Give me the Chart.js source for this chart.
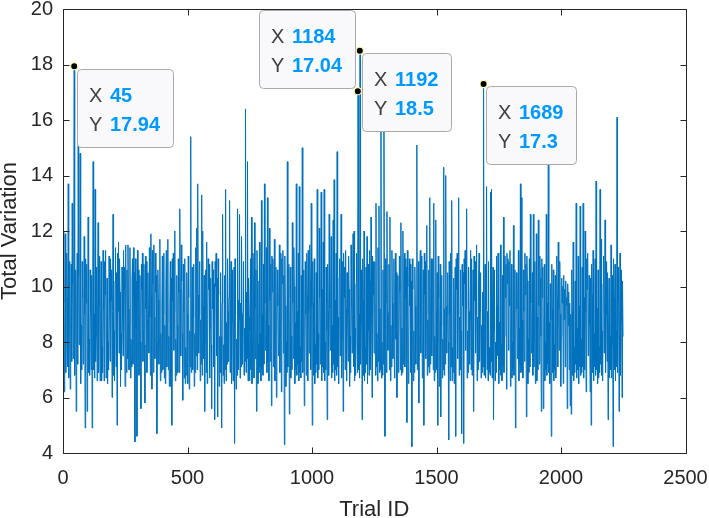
<!DOCTYPE html>
<html><head><meta charset="utf-8">
<script src="https://cdn.jsdelivr.net/npm/chart.js@4/dist/chart.umd.min.js"></script>
<style>html,body{margin:0;padding:0;background:#fff;}canvas{display:block;}</style>
</head><body>
<canvas id="c" width="709" height="518"></canvas>
<script>
// ---- data ----
const firstTrial = 1;
const trialStep = 4;          // samples at trials 1, 5, 9, ...
// values at trials firstTrial + trialStep*k
const totalVariation = [
12.0, 6.2, 11.9, 8.0, 9.6, 13.7, 8.4, 6.3, 10.8, 13.0,
7.4, 17.94, 9.1, 5.5, 11.2, 15.2, 7.9, 14.8, 8.6, 10.9,
7.2, 11.8, 4.9, 9.4, 5.5, 12.5, 8.1, 10.6, 7.0, 4.9,
14.5, 9.0, 13.5, 8.2, 6.6, 12.3, 9.3, 6.6, 10.9, 7.8,
11.3, 6.6, 9.7, 6.7, 10.3, 8.0, 11.1, 7.3, 9.5, 6.0,
12.6, 8.4, 10.2, 7.1, 5.0, 9.1, 7.6, 9.8, 8.3, 10.7,
7.5, 9.9, 6.4, 8.8, 10.6, 11.5, 7.0, 11.4, 8.1, 10.2,
7.2, 9.6, 4.4, 8.5, 4.6, 9.5, 6.8, 10.4, 5.6, 9.9,
7.3, 10.8, 5.8, 9.2, 6.9, 10.5, 7.6, 8.9, 11.9, 6.3,
10.1, 11.5, 7.4, 9.8, 4.7, 10.6, 7.2, 11.7, 8.3, 9.4,
7.0, 11.2, 8.6, 10.0, 7.1, 11.7, 8.2, 9.3, 6.4, 5.0,
9.5, 7.7, 12.0, 8.1, 10.4, 6.9, 9.8, 12.8, 7.5, 10.2,
5.9, 9.1, 11.0, 7.8, 10.5, 6.5, 9.6, 8.4, 15.4, 9.0,
7.0, 10.8, 8.3, 11.4, 12.1, 13.7, 7.6, 10.9, 8.8, 13.3,
12.0, 7.4, 5.5, 10.6, 11.6, 8.0, 9.9, 6.7, 10.3, 5.6,
9.2, 7.1, 5.2, 10.0, 7.5, 5.3, 9.7, 8.2, 10.5, 4.9,
12.6, 7.9, 10.4, 13.5, 8.7, 11.0, 7.3, 13.1, 9.2, 6.5,
10.6, 7.8, 4.35, 9.0, 8.1, 12.8, 7.0, 12.6, 9.4, 11.8,
7.2, 10.9, 8.5, 16.4, 9.8, 14.5, 10.3, 6.6, 11.0, 12.5,
8.0, 9.7, 12.3, 7.4, 5.5, 10.2, 7.9, 11.6, 8.3, 13.1,
9.0, 10.8, 13.7, 7.7, 11.4, 13.2, 8.6, 12.1, 7.3, 5.7,
9.8, 7.1, 11.7, 8.4, 6.0, 10.6, 7.5, 11.5, 8.8, 6.2,
10.1, 7.6, 4.3, 9.3, 8.0, 14.5, 9.6, 5.4, 10.7, 8.2,
12.3, 7.4, 10.0, 8.7, 13.7, 9.1, 11.2, 13.6, 7.8, 10.4,
15.0, 8.5, 5.7, 10.9, 6.8, 9.7, 11.3, 7.6, 10.2, 13.0,
5.0, 9.4, 11.0, 7.9, 10.5, 13.5, 8.3, 12.1, 7.2, 13.4,
9.9, 11.6, 13.5, 8.0, 10.7, 5.2, 9.1, 12.6, 7.7, 11.8,
8.6, 12.4, 13.85, 9.5, 11.2, 14.86, 8.9, 10.3, 7.5, 12.6,
8.1, 5.5, 9.6, 7.0, 9.2, 10.5, 7.3, 9.9, 8.2, 11.5,
7.6, 11.9, 12.0, 8.5, 10.1, 7.9, 17.04, 9.0, 18.5, 8.7,
5.2, 9.5, 12.0, 7.8, 10.7, 11.8, 8.4, 6.8, 10.2, 12.5,
6.0, 9.7, 7.6, 10.9, 13.0, 8.3, 11.4, 12.9, 9.2, 15.6,
8.0, 10.6, 15.6, 4.6, 9.4, 12.7, 7.7, 10.8, 12.5, 8.6,
11.3, 7.4, 11.0, 9.5, 8.1, 6.0, 10.4, 7.9, 9.8, 12.3,
8.5, 12.0, 10.3, 7.1, 9.6, 5.1, 10.0, 7.8, 9.3, 6.9,
4.23, 9.9, 8.4, 10.7, 7.2, 15.1, 9.0, 5.8, 10.3, 7.6,
11.1, 8.0, 5.0, 9.7, 7.4, 12.2, 8.8, 10.6, 13.2, 9.1,
7.5, 11.0, 13.0, 8.2, 12.4, 7.0, 5.0, 9.6, 8.5, 5.3,
10.4, 8.1, 14.3, 9.2, 14.0, 7.6, 10.5, 4.47, 9.0, 11.2,
13.1, 7.8, 10.3, 8.6, 4.6, 9.9, 7.4, 13.2, 8.9, 10.6,
4.7, 9.3, 4.35, 10.1, 7.7, 12.8, 8.4, 10.7, 7.2, 11.3,
11.0, 8.1, 5.5, 9.5, 7.6, 11.5, 8.9, 10.2, 7.3, 10.5,
8.6, 9.8, 17.3, 8.3, 6.7, 13.6, 9.1, 10.9, 7.8, 13.4,
13.5, 9.4, 5.2, 10.6, 8.0, 11.1, 7.5, 9.9, 8.7, 11.5,
7.9, 10.4, 12.5, 8.2, 9.6, 6.3, 10.1, 7.7, 9.3, 6.4,
10.8, 8.0, 12.2, 9.1, 4.9, 10.5, 7.4, 11.3, 8.5, 13.7,
13.2, 8.8, 10.6, 7.3, 9.7, 5.3, 10.2, 8.1, 11.0, 12.6,
7.6, 10.5, 12.6, 8.4, 6.5, 11.9, 8.9, 12.4, 7.2, 10.3,
5.5, 9.6, 5.6, 10.8, 8.0, 12.6, 9.4, 14.4, 8.7, 10.1,
4.6, 9.2, 10.6, 7.9, 10.4, 8.3, 9.6, 11.6, 7.7, 9.0,
8.2, 9.4, 6.5, 8.8, 7.1, 9.3, 5.6, 8.6, 7.0, 5.7,
5.4, 9.1, 11.6, 7.8, 10.2, 13.0, 8.5, 11.1, 9.3, 12.9,
8.1, 10.7, 13.0, 9.6, 12.0, 6.2, 9.9, 7.5, 10.4, 6.2,
5.0, 9.7, 11.3, 8.3, 11.0, 13.8, 9.2, 10.6, 7.8, 13.5,
11.7, 8.4, 10.1, 7.6, 12.4, 9.0, 7.3, 5.2, 10.3, 8.2,
11.5, 7.9, 4.23, 9.6, 10.8, 8.4, 16.1, 9.5, 5.5, 11.2,
8.7, 6.0, 8.2
];
// values at the in-between trials firstTrial + trialStep*k + 2 (dense core of the trace)
const totalVariationMid = [
9.4, 8.7, 6.9, 11.2, 7.1, 6.7, 10.9, 8.2, 7.3, 10.1,
9.8, 6.8, 10.6, 8.9, 7.2, 10.4, 9.2, 6.5, 7.0, 9.6,
8.6, 9.0, 11.0, 10.8, 7.9, 6.9, 6.8, 9.1, 10.4, 8.3,
7.0, 6.7, 7.3, 10.7, 9.0, 6.9, 11.1, 8.5, 6.6, 6.9,
9.2, 10.9, 11.3, 8.1, 6.5, 7.0, 9.4, 11.0, 10.6, 9.1,
6.8, 6.6, 11.4, 10.5, 11.2, 11.6, 11.0, 6.4, 7.0, 9.0,
11.3, 10.7, 11.5, 6.9, 7.4, 9.2, 8.6, 6.7, 7.1, 11.0,
11.4, 10.5, 11.0, 10.2, 11.3, 10.6, 8.9, 8.0, 10.8, 11.2,
8.4, 7.9, 11.1, 10.9, 8.8, 9.1, 11.4, 6.8, 9.7, 11.3,
6.9, 8.9, 11.2, 10.4, 8.0, 9.5, 8.1, 6.6, 6.9, 11.1,
9.0, 6.7, 6.5, 11.3, 8.7, 7.0, 6.4, 10.9, 10.3, 11.0,
11.2, 9.1, 6.6, 6.8, 8.6, 11.0, 6.9, 9.9, 11.5, 8.3,
10.8, 6.7, 6.5, 6.8, 9.0, 11.1, 6.3, 7.1, 6.9, 10.7,
8.9, 6.4, 6.9, 7.5, 7.0, 9.7, 9.0, 6.6, 7.2, 6.8,
9.3, 10.4, 8.0, 6.9, 6.5, 11.0, 10.8, 8.5, 7.9, 10.9,
10.6, 10.1, 10.9, 11.2, 10.3, 11.0, 6.4, 6.9, 8.2, 9.4,
6.8, 6.5, 7.0, 6.6, 7.2, 9.1, 9.6, 6.9, 10.9, 8.7,
6.6, 10.7, 11.0, 6.3, 6.8, 9.5, 8.8, 6.7, 7.1, 9.0,
9.1, 6.8, 7.3, 6.9, 7.4, 6.6, 8.9, 8.4, 7.0, 6.5,
11.2, 6.7, 9.2, 10.6, 11.3, 6.5, 6.9, 7.1, 6.6, 7.0,
6.8, 7.2, 9.4, 8.8, 6.9, 7.3, 6.6, 9.5, 10.8, 11.1,
11.0, 9.0, 6.6, 10.7, 8.6, 9.3, 8.2, 6.9, 11.2, 11.0,
11.3, 10.4, 11.1, 6.4, 6.9, 7.1, 10.8, 8.3, 6.7, 7.0,
9.4, 11.4, 6.5, 7.0, 6.8, 7.2, 6.6, 6.9, 6.7, 7.3,
6.9, 10.6, 8.2, 9.0, 11.2, 6.6, 9.1, 11.5, 7.0, 9.3,
10.9, 6.8, 6.5, 6.9, 7.2, 6.7, 7.0, 9.6, 8.8, 6.6,
7.1, 6.9, 6.6, 7.0, 8.4, 10.8, 6.8, 9.2, 9.5, 6.7,
6.9, 7.2, 6.6, 7.0, 6.8, 7.1, 6.5, 11.0, 9.2, 6.7,
10.9, 11.2, 10.7, 11.3, 6.6, 9.0, 11.1, 6.4, 6.9, 9.3,
9.0, 7.1, 6.6, 6.8, 11.2, 6.9, 7.0, 6.7, 7.2, 10.6,
11.0, 6.8, 6.6, 6.9, 7.2, 6.5, 10.8, 11.3, 7.0, 9.2,
11.1, 10.9, 9.0, 6.8, 7.1, 6.6, 7.3, 6.9, 7.0, 6.7,
6.8, 7.2, 9.5, 11.0, 6.9, 9.1, 8.9, 7.0, 6.6, 7.1,
9.4, 8.7, 6.7, 11.2, 10.5, 8.3, 6.9, 11.1, 7.0, 6.8,
6.9, 7.2, 11.2, 11.0, 10.7, 11.3, 6.5, 11.0, 10.8, 10.2,
11.0, 6.6, 6.9, 9.3, 8.6, 7.0, 10.9, 8.2, 11.3, 9.4,
6.7, 10.6, 11.2, 10.9, 9.0, 6.8, 7.1, 6.9, 7.2, 11.0,
9.2, 7.0, 6.6, 6.9, 9.1, 10.5, 11.1, 6.4, 10.8, 8.6,
6.7, 7.0, 6.8, 7.2, 9.3, 9.0, 8.0, 10.9, 6.6, 7.1,
6.6, 6.9, 6.5, 10.7, 11.0, 11.2, 9.0, 6.8, 7.0, 8.4,
10.8, 10.5, 11.0, 11.3, 9.2, 6.7, 6.9, 9.1, 8.8, 7.0,
6.8, 10.6, 11.1, 10.9, 9.0, 6.6, 7.0, 11.2, 9.1, 6.7,
6.9, 7.1, 6.8, 10.8, 9.2, 7.0, 6.6, 6.9, 6.8, 7.3,
6.7, 10.7, 8.4, 6.6, 6.9, 9.3, 11.2, 6.5, 7.0, 6.8,
6.6, 7.1, 6.9, 11.1, 10.8, 11.2, 11.0, 10.9, 11.3, 8.7,
6.7, 7.0, 6.8, 10.6, 8.1, 9.2, 8.9, 6.6, 7.2, 6.9,
7.0, 6.7, 9.1, 11.2, 10.8, 11.1, 6.5, 6.9, 7.1, 9.4,
9.0, 6.8, 7.1, 10.9, 8.6, 6.6, 7.0, 9.3, 11.1, 8.2,
11.0, 10.7, 8.5, 6.6, 7.0, 6.8, 7.2, 6.9, 6.5, 8.8,
10.8, 6.9, 6.6, 7.0, 6.7, 11.1, 7.1, 9.2, 10.9, 6.4,
10.3, 10.0, 10.4, 9.9, 10.2, 9.6, 10.1, 9.8, 9.4, 9.0,
10.6, 6.8, 6.6, 6.9, 7.2, 6.7, 7.0, 6.5, 7.1, 6.8,
6.9, 7.1, 6.7, 7.0, 9.1, 11.0, 11.2, 9.0, 8.6, 10.3,
10.8, 6.9, 6.6, 7.1, 6.8, 7.0, 6.5, 6.7, 6.9, 7.2,
6.8, 6.6, 11.1, 9.0, 6.9, 10.9, 10.5, 8.4, 6.7, 7.0,
6.7, 10.4, 11.0, 7.0, 6.6, 7.1, 6.9, 10.7, 8.3, 6.8,
10.6, 10.2
];
const xTickValues = [0, 500, 1000, 1500, 2000, 2500];
const yTickValues = [4, 6, 8, 10, 12, 14, 16, 18, 20];
const tipTrials = [45, 1184, 1192, 1689];
const tipValues = [17.94, 17.04, 18.5, 17.3];
const xTitle = 'Trial ID';
const yTitle = 'Total Variation';

// ---- build the table the library needs ----
const points = [];
totalVariation.forEach((v, k) => {
  points.push({ x: firstTrial + k * trialStep, y: v });
  if (k < totalVariationMid.length) {
    points.push({ x: firstTrial + k * trialStep + trialStep / 2, y: totalVariationMid[k] });
  }
});

const FONT = '"Liberation Sans", Arial, Helvetica, sans-serif';
const AXIS_COLOR = '#262626';
const tipPlacement = ['se', 'nw', 'se', 'se'];

const framePlugin = {
  id: 'frame',
  afterDatasetsDraw(chart) {
    const { ctx, chartArea: a } = chart;
    const xs = chart.scales.x, ys = chart.scales.y;
    const L = Math.round(a.left) + 0.5, R = Math.round(a.right) + 0.5;
    const T = Math.round(a.top) + 0.5, B = Math.round(a.bottom) + 0.5;
    const tl = 6;
    ctx.save();
    ctx.strokeStyle = AXIS_COLOR;
    ctx.lineWidth = 1;
    ctx.beginPath();
    ctx.rect(L, T, R - L, B - T);
    xTickValues.forEach(v => {
      const p = Math.round(xs.getPixelForValue(v)) + 0.5;
      ctx.moveTo(p, B); ctx.lineTo(p, B - tl);
      ctx.moveTo(p, T); ctx.lineTo(p, T + tl);
    });
    yTickValues.forEach(v => {
      const p = Math.round(ys.getPixelForValue(v)) + 0.5;
      ctx.moveTo(L, p); ctx.lineTo(L + tl, p);
      ctx.moveTo(R, p); ctx.lineTo(R - tl, p);
    });
    ctx.stroke();
    ctx.restore();
  }
};

const tipPlugin = {
  id: 'datatips',
  afterDatasetsDraw(chart) {
    const { ctx } = chart;
    const xs = chart.scales.x, ys = chart.scales.y;
    ctx.save();
    tipTrials.forEach((t, i) => {
      const px = xs.getPixelForValue(t), py = ys.getPixelForValue(tipValues[i]);
      const sx = String(t), sy = String(tipValues[i]);
      ctx.font = 'bold 20px ' + FONT;
      const w = 32.5 + Math.max(ctx.measureText(sx).width, ctx.measureText(sy).width) + 13.5;
      const h = 78;
      let bx, by;
      if (tipPlacement[i] === 'nw') { bx = px - 2.5 - w; by = py - 3 - h; }
      else { bx = px + 2.5; by = py + 2.5; }
      bx = Math.round(bx) + 0.5; by = Math.round(by) + 0.5;
      ctx.beginPath();
      ctx.roundRect(bx, by, Math.round(w), h, 4);
      ctx.fillStyle = '#f9f9fc';
      ctx.fill();
      ctx.strokeStyle = '#aaaaaa';
      ctx.lineWidth = 1;
      ctx.stroke();
      ctx.textBaseline = 'alphabetic';
      ctx.textAlign = 'left';
      ctx.font = '20px ' + FONT;
      ctx.fillStyle = '#404040';
      ctx.fillText('X', bx + 11.5, by + 32);
      ctx.fillText('Y', bx + 11.5, by + 61.5);
      ctx.font = 'bold 20px ' + FONT;
      ctx.fillStyle = '#0099ff';
      ctx.fillText(sx, bx + 32.5, by + 32);
      ctx.fillText(sy, bx + 32.5, by + 61.5);
    });
    tipTrials.forEach((t, i) => {
      const px = xs.getPixelForValue(t), py = ys.getPixelForValue(tipValues[i]);
      ctx.beginPath();
      ctx.arc(px, py, 3.6, 0, Math.PI * 2);
      ctx.fillStyle = '#000000';
      ctx.fill();
      ctx.strokeStyle = '#ffffb8';
      ctx.lineWidth = 1.2;
      ctx.stroke();
    });
    ctx.restore();
  }
};

new Chart(document.getElementById('c'), {
  type: 'line',
  data: {
    datasets: [{
      data: points,
      borderColor: '#0072BD',
      borderWidth: 1,
      pointRadius: 0,
      tension: 0,
      fill: false
    }]
  },
  options: {
    responsive: false,
    animation: false,
    devicePixelRatio: 1,
    layout: { padding: { left: 0, top: 9, right: 23.5, bottom: 0 } },
    plugins: { legend: { display: false }, tooltip: { enabled: false } },
    scales: {
      x: {
        type: 'linear',
        min: 0, max: 2500,
        grid: { display: false, drawTicks: false },
        border: { display: false },
        ticks: {
          stepSize: 500, maxRotation: 0, autoSkip: false, padding: 13,
          color: AXIS_COLOR, font: { family: FONT, size: 20 },
          callback: v => String(v)
        },
        title: {
          display: true, text: xTitle, color: AXIS_COLOR,
          font: { family: FONT, size: 22, lineHeight: 0.75 },
          padding: { top: 0, bottom: 0 }
        },
        afterFit(s) { s.height = 65; s.paddingLeft = 0; s.paddingRight = 0; }
      },
      y: {
        type: 'linear',
        min: 4, max: 20,
        grid: { display: false, drawTicks: false },
        border: { display: false },
        ticks: {
          stepSize: 2, padding: 10,
          color: AXIS_COLOR, font: { family: FONT, size: 20 },
          callback: v => String(v)
        },
        title: {
          display: true, text: yTitle, color: AXIS_COLOR,
          font: { family: FONT, size: 22, lineHeight: 0.75 },
          padding: { top: 2, bottom: 0 }
        },
        afterFit(s) { s.width = 63; s.paddingTop = 0; s.paddingBottom = 0; }
      }
    }
  },
  plugins: [framePlugin, tipPlugin]
});
</script>
</body></html>
